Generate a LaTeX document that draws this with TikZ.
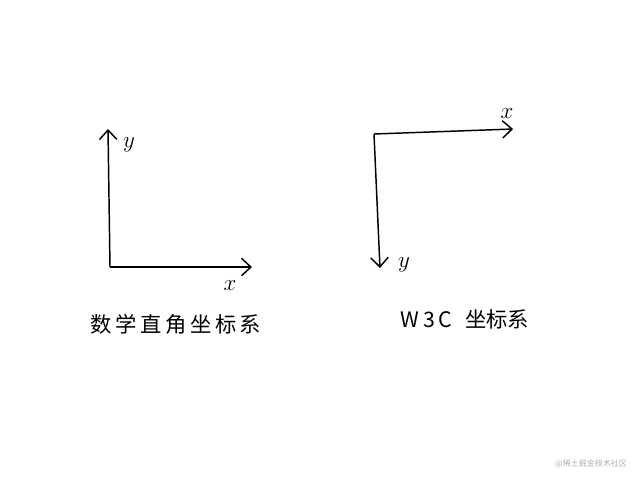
\documentclass[tikz,border=0pt]{standalone}
\usepackage{fontspec}
\newfontfamily\cjk{Noto Sans CJK SC}
\usetikzlibrary{arrows.meta}

\tikzset{
  axis/.style={line width=1.1pt, -{Straight Barb[length=7pt,width=13pt,line width=1.1pt]}},
  axislabel/.style={font=\fontsize{18}{18}\selectfont},
  caption/.style={font=\cjk\fontsize{16}{20}\selectfont}
}

\begin{document}
\begin{tikzpicture}[x=0.75pt,y=0.75pt,yscale=-1,xscale=1]
\path[fill=white] (0,0) rectangle (640,480); %keep the page at 640 x 480
%left: maths axes
\coordinate (o1) at (110,267);
\coordinate (yt1) at (108,129);
\coordinate (xt1) at (252,267);
\draw[axis] (o1) -- (yt1);
\draw[axis] (o1) -- (xt1);
%right: w3c axes
\coordinate (o2) at (374,134);
\coordinate (xt2) at (513,129);
\coordinate (yt2) at (380,268);
\draw[axis] (o2) -- (xt2);
\draw[axis] (o2) -- (yt2);

\draw (129,145) node [axislabel] (y1) {$y$};
\draw (230,286) node [axislabel] (x1) {$x$};
\draw (507,114) node [axislabel] (x2) {$x$};
\draw (404,265) node [axislabel] (y2) {$y$};
\draw (176,324) node [caption] (cap1) {数\,学\,直\,角\,坐\,标\,系};
\draw (465,319) node [caption] (cap2) {W\,3\,C\hspace{0.6em}坐标系};
\draw (591,464) node [font=\cjk\fontsize{6}{7}\selectfont, text=black!30] (mark) {@稀土掘金技术社区};
\end{tikzpicture}
\end{document}
